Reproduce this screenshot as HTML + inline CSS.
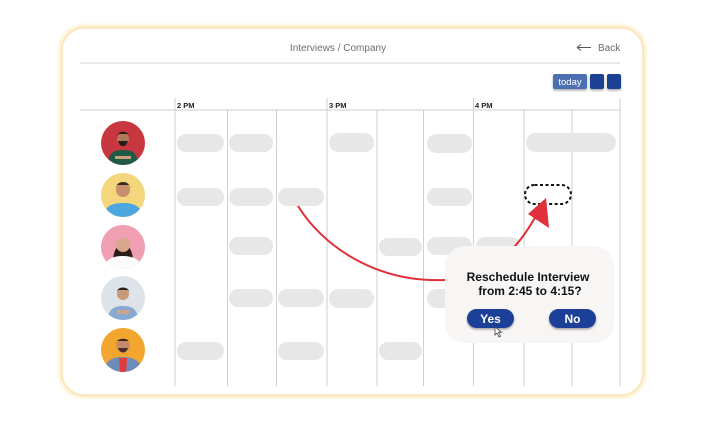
<!DOCTYPE html>
<html><head><meta charset="utf-8">
<style>
html,body{margin:0;padding:0;background:#fff;width:723px;height:435px;overflow:hidden;}
svg{display:block;}
text{font-family:"Liberation Sans",Arial,sans-serif;}
</style></head>
<body>
<svg width="723" height="435" viewBox="0 0 723 435" xmlns="http://www.w3.org/2000/svg">
<defs>
<filter id="glow" x="-10%" y="-10%" width="120%" height="120%"><feGaussianBlur stdDeviation="2"/></filter>
<filter id="sh" x="-20%" y="-20%" width="140%" height="160%"><feDropShadow dx="0" dy="1.5" stdDeviation="1" flood-color="#000" flood-opacity="0.35"/></filter>
<clipPath id="c1"><circle cx="123" cy="143" r="22"/></clipPath>
<clipPath id="c2"><circle cx="123" cy="195" r="22"/></clipPath>
<clipPath id="c3"><circle cx="123" cy="247" r="22"/></clipPath>
<clipPath id="c4"><circle cx="123" cy="298" r="22"/></clipPath>
<clipPath id="c5"><circle cx="123" cy="350" r="22"/></clipPath>
</defs>

<!-- card -->
<rect x="62" y="28" width="581" height="367" rx="22" fill="none" stroke="#fbe2a4" stroke-width="4" filter="url(#glow)"/>
<rect x="62" y="28" width="581" height="367" rx="22" fill="#fff" stroke="#fae6b6" stroke-width="1.5"/>

<!-- header -->
<text x="338" y="51" font-size="10" fill="#6d6d6d" text-anchor="middle">Interviews / Company</text>
<text x="598" y="51" font-size="10" fill="#6d6d6d">Back</text>
<path d="M577,47.5 H591 M577,47.5 l4,-3 M577,47.5 l4,3" stroke="#555" stroke-width="1" fill="none"/>
<line x1="80" y1="63" x2="620" y2="63" stroke="#dcdcdc" stroke-width="1.2"/>

<!-- buttons -->
<rect x="553" y="74" width="34" height="15" rx="2" fill="#4e6fb3" filter="url(#sh)"/>
<text x="570" y="85" font-size="9.5" fill="#fff" text-anchor="middle">today</text>
<rect x="590" y="74" width="14" height="15" rx="2" fill="#1c3f94" filter="url(#sh)"/>
<rect x="607" y="74" width="14" height="15" rx="2" fill="#1c3f94" filter="url(#sh)"/>

<!-- grid -->
<line x1="80" y1="110" x2="620" y2="110" stroke="#d6d6d6" stroke-width="1.2"/>
<g stroke="#cfcfcf" stroke-width="1">
<line x1="175" y1="98" x2="175" y2="386"/>
<line x1="227.5" y1="110" x2="227.5" y2="386"/>
<line x1="276.5" y1="110" x2="276.5" y2="386"/>
<line x1="327" y1="98" x2="327" y2="386"/>
<line x1="377" y1="110" x2="377" y2="386"/>
<line x1="423.5" y1="110" x2="423.5" y2="386"/>
<line x1="473.5" y1="98" x2="473.5" y2="386"/>
<line x1="524" y1="110" x2="524" y2="386"/>
<line x1="572" y1="110" x2="572" y2="386"/>
<line x1="620" y1="98" x2="620" y2="386"/>
</g>
<text x="177" y="108" font-size="7.5" font-weight="bold" fill="#222">2 PM</text>
<text x="329" y="108" font-size="7.5" font-weight="bold" fill="#222">3 PM</text>
<text x="475" y="108" font-size="7.5" font-weight="bold" fill="#222">4 PM</text>

<!-- blobs -->
<g fill="#e8e7e8">
<!-- row1 -->
<rect x="177" y="134" width="47" height="18" rx="9"/>
<rect x="229" y="134" width="44" height="18" rx="9"/>
<rect x="329" y="133" width="45" height="19" rx="9.5"/>
<rect x="427" y="134" width="45" height="19" rx="9.5"/>
<rect x="526" y="133" width="90" height="19" rx="9.5"/>
<!-- row2 -->
<rect x="177" y="188" width="47" height="18" rx="9"/>
<rect x="229" y="188" width="44" height="18" rx="9"/>
<rect x="278" y="188" width="46" height="18" rx="9"/>
<rect x="427" y="188" width="45" height="18" rx="9"/>
<!-- row3 -->
<rect x="229" y="237" width="44" height="18" rx="9"/>
<rect x="379" y="238" width="43" height="18" rx="9"/>
<rect x="427" y="237" width="45" height="18" rx="9"/>
<rect x="476" y="237" width="44" height="18" rx="9"/>
<!-- row4 -->
<rect x="229" y="289" width="44" height="18" rx="9"/>
<rect x="278" y="289" width="46" height="18" rx="9"/>
<rect x="329" y="289" width="45" height="19" rx="9.5"/>
<rect x="427" y="289" width="45" height="19" rx="9.5"/>
<!-- row5 -->
<rect x="177" y="342" width="47" height="18" rx="9"/>
<rect x="278" y="342" width="46" height="18" rx="9"/>
<rect x="379" y="342" width="43" height="18" rx="9"/>
</g>

<!-- dashed target -->
<rect x="525" y="185" width="46" height="19" rx="9.5" fill="#fff" stroke="#111" stroke-width="2" stroke-dasharray="3,2.5"/>

<!-- red arrow -->
<path d="M298,206 C322,245 375,283 445,280 C490,278 518,250 538,212" fill="none" stroke="#e0303a" stroke-width="2"/>
<polygon points="546,198 528,214 549,228" fill="#e0303a"/>

<!-- popup -->
<rect x="445" y="246" width="169" height="97" rx="20" fill="#f8f5f5"/>
<text x="528" y="281" font-size="12" font-weight="bold" fill="#111" text-anchor="middle">Reschedule Interview</text>
<text x="530" y="295" font-size="12" font-weight="bold" fill="#111" text-anchor="middle">from 2:45 to 4:15?</text>
<rect x="467" y="309" width="47" height="19" rx="9.5" fill="#1b3f98" filter="url(#sh)"/>
<text x="490.5" y="323" font-size="12" font-weight="bold" fill="#fff" text-anchor="middle">Yes</text>
<rect x="549" y="309" width="47" height="19" rx="9.5" fill="#1b3f98" filter="url(#sh)"/>
<text x="572.5" y="323" font-size="12" font-weight="bold" fill="#fff" text-anchor="middle">No</text>
<!-- cursor -->
<path d="M495,327 l0,8 l2,-2 l2,4 l1.5,-0.8 l-2,-4 l3,0 z" fill="#fff" stroke="#444" stroke-width="0.8"/>

<!-- avatars -->
<g clip-path="url(#c1)">
<rect x="100" y="120" width="46" height="46" fill="#c8363f"/>
<path d="M108,166 C108,152 114,150 123,150 C132,150 138,152 138,166 Z" fill="#1f5a45"/>
<circle cx="123" cy="139" r="6" fill="#b07a5a"/>
<path d="M117,137 C117,130 129,130 129,137 L128,134 L118,134 Z" fill="#2a1d18"/>
<path d="M118,141 C120,148 126,148 128,141 Z" fill="#2a1d18"/>
<rect x="115" y="156" width="16" height="3" fill="#c9a07a"/>
</g>
<g clip-path="url(#c2)">
<rect x="100" y="172" width="46" height="46" fill="#f4d77c"/>
<path d="M104,218 C104,206 112,203 123,203 C134,203 142,206 142,218 Z" fill="#4ba7dd"/>
<circle cx="123" cy="190" r="7" fill="#c98e6e"/>
<path d="M116,188 C116,180 130,180 130,188 L129,185 L117,185 Z" fill="#3a2a22"/>
</g>
<g clip-path="url(#c3)">
<rect x="100" y="224" width="46" height="46" fill="#ef9fb1"/>
<path d="M113,262 C113,238 133,238 133,262 Z" fill="#2b1e1a"/>
<path d="M104,270 C104,260 112,256 123,256 C134,256 142,260 142,270 Z" fill="#fbfbfb"/>
<circle cx="123" cy="245" r="7" fill="#d8a688"/>
</g>
<g clip-path="url(#c4)">
<rect x="100" y="275" width="46" height="46" fill="#dde3e8"/>
<path d="M108,321 C108,309 114,306 123,306 C132,306 138,309 138,321 Z" fill="#88a9d4"/>
<circle cx="123" cy="294" r="6" fill="#c99a7a"/>
<path d="M117,292 C117,286 129,286 129,292 L128,290 L118,290 Z" fill="#2a2220"/>
<rect x="117" y="310" width="12" height="4" fill="#d0a488"/>
</g>
<g clip-path="url(#c5)">
<rect x="100" y="327" width="46" height="46" fill="#f2a52f"/>
<path d="M104,373 C104,361 112,357 123,357 C134,357 142,361 142,373 Z" fill="#6d8db8"/>
<path d="M119,358 L127,358 L126,373 L120,373 Z" fill="#e43a3a"/>
<circle cx="123" cy="346" r="6.5" fill="#c58a68"/>
<path d="M116,344 C116,337 130,337 130,344 L129,341 L117,341 Z" fill="#3a2520"/>
<path d="M118,348 C120,354 126,354 128,348 Z" fill="#4a2e24"/>
</g>
</svg>
</body></html>
